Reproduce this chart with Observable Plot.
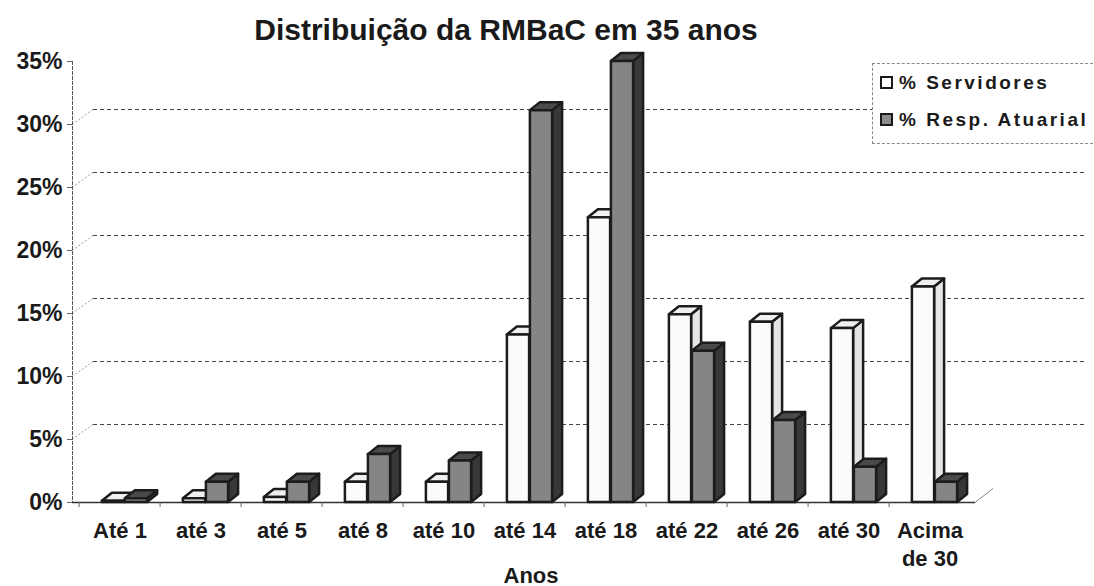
<!DOCTYPE html>
<html><head><meta charset="utf-8">
<script src="https://cdn.jsdelivr.net/npm/d3@7"></script>
<script src="https://cdn.jsdelivr.net/npm/@observablehq/plot@0.6"></script>
<style>
html,body{margin:0;padding:0;background:#fff;width:1094px;height:586px;overflow:hidden;font-family:"Liberation Sans",Arial,sans-serif;}
#wrap{position:relative;width:1094px;height:586px;}
#title{position:absolute;left:0;width:1012px;top:15px;text-align:center;font-size:30px;font-weight:bold;color:#1a1a1a;line-height:30px;white-space:nowrap;}
#chart{position:absolute;left:0;top:40px;}
#legend{position:absolute;left:872px;top:63px;width:230px;height:79px;border-left:1px dashed #888;border-top:1px dashed #888;border-bottom:1px dashed #888;background:#fff;}
.item{position:absolute;left:7px;font-size:19px;font-weight:bold;letter-spacing:2.5px;color:#1a1a1a;line-height:22px;white-space:nowrap;}
.sw{display:inline-block;width:9px;height:9px;border:2.5px solid #1a1a1a;margin-right:6px;vertical-align:0px;}
</style></head>
<body><div id="wrap">
<div id="title">Distribuição da RMBaC em 35 anos</div>
<div id="chart"></div>
<div id="legend">
 <div class="item" style="top:8px"><span class="sw" style="background:#fff"></span>% Servidores</div>
 <div class="item" style="top:45px"><span class="sw" style="background:#8c8c8c"></span>% Resp. Atuarial</div>
</div>
</div>
<script>
const categories = ["Até 1","até 3","até 5","até 8","até 10","até 14","até 18","até 22","até 26","até 30","Acima de 30"];
const servidores = [0.1, 0.3, 0.4, 1.6, 1.6, 13.3, 22.6, 14.9, 14.3, 13.8, 17.1];
const respAtuarial = [0.3, 1.6, 1.6, 3.8, 3.3, 31.1, 35.0, 12.0, 6.5, 2.8, 1.6];
const yTicks = [0, 5, 10, 15, 20, 25, 30, 35];
const gridTicks = [5, 10, 15, 20, 25, 30];

const serv = categories.map((c, i) => ({cat: c, value: servidores[i]}));
const resp = categories.map((c, i) => ({cat: c, value: respAtuarial[i]}));

const DX = 10, DY = -8;      // bar depth
const WX = 21, WY = -15;     // back wall offset
const stroke = "#1c1c1c";
const NS = "http://www.w3.org/2000/svg";

function el(name, attrs) {
  const e = document.createElementNS(NS, name);
  for (const k in attrs) e.setAttribute(k, attrs[k]);
  return e;
}

// 3D box: add top and side faces to every rendered bar
function box3d(topFill, sideFill) {
  return (index, scales, values, dimensions, context, next) => {
    const g = next(index, scales, values, dimensions, context);
    for (const r of Array.from(g.querySelectorAll("rect"))) {
      const x = +r.getAttribute("x"), y = +r.getAttribute("y");
      const w = +r.getAttribute("width"), h = +r.getAttribute("height");
      const side = el("polygon", {points: `${x+w},${y+h} ${x+w+DX},${y+h+DY} ${x+w+DX},${y+DY} ${x+w},${y}`, fill: sideFill});
      const top = el("polygon", {points: `${x},${y} ${x+DX},${y+DY} ${x+w+DX},${y+DY} ${x+w},${y}`, fill: topFill});
      r.parentNode.insertBefore(side, r);
      r.parentNode.insertBefore(top, r);
    }
    return g;
  };
}

// diagonal connectors from the axis to the back-wall grid lines
function wallLinks(index, scales, values, dimensions, context, next) {
  const g = next(index, scales, values, dimensions, context);
  for (const l of Array.from(g.querySelectorAll("line"))) {
    const x1 = +l.getAttribute("x1"), y1 = +l.getAttribute("y1");
    g.appendChild(el("line", {x1: x1 - WX, y1: y1 - WY, x2: x1, y2: y1, "stroke-dasharray": "2,2", stroke: "#999"}));
  }
  return g;
}

// floor edge rising at the right end of the baseline
function floorEdge(index, scales, values, dimensions, context, next) {
  const g = next(index, scales, values, dimensions, context);
  for (const l of Array.from(g.querySelectorAll("line"))) {
    const x2 = +l.getAttribute("x2"), y2 = +l.getAttribute("y2");
    g.appendChild(el("line", {x1: x2, y1: y2, x2: x2 + WX - 3, y2: y2 + WY + 1, stroke: "#888", "stroke-width": 1}));
  }
  return g;
}

const chart = Plot.plot({
  width: 1094,
  height: 546,
  marginLeft: 72,
  marginRight: 119,
  marginTop: 21,
  marginBottom: 84,
  style: {fontFamily: "'Liberation Sans', Arial, sans-serif", fontWeight: "bold", fontSize: "15px", color: "#1a1a1a", background: "transparent", overflow: "visible"},
  x: {domain: categories, range: [74.1, 974.5], padding: 0, label: null},
  y: {domain: [0, 35], label: null},
  marks: [
    Plot.ruleY(gridTicks, {y: d => d, dx: WX, dy: WY, insetRight: -89, stroke: "#444", strokeDasharray: "4,3", strokeWidth: 1, render: wallLinks}),
    Plot.frame({anchor: "left", stroke: "#555", strokeDasharray: "3,2"}),
    Plot.ruleY([0], {stroke: "#333", strokeWidth: 1.5, render: floorEdge}),
    Plot.axisX({tickSize: 5, tickFormat: () => "", dx: -40.9, stroke: "#666", label: null}),
    Plot.barY(serv, {x: "cat", y: "value", insetLeft: 22.9, insetRight: 35.9, fill: "#fbfbfb", stroke, strokeWidth: 2.5, strokeLinejoin: "round", render: box3d("#f0f0f0", "#e6e6e6")}),
    Plot.barY(resp, {x: "cat", y: "value", insetLeft: 45.9, insetRight: 12.9, fill: "#858585", stroke, strokeWidth: 2.5, strokeLinejoin: "round", render: box3d("#4a4a4a", "#383838")}),
    Plot.axisY({ticks: yTicks, tickFormat: d => d + "%", tickSize: 5, tickPadding: 5, fontSize: 23, stroke: "#666", label: null}),
    Plot.axisX({tickSize: 0, tickPadding: 16, fontSize: 22, tickFormat: d => d.replace(" de ", "\nde "), label: null, lineHeight: 1.27}),
    Plot.text(["Anos"], {frameAnchor: "bottom", lineAnchor: "middle", dy: 73, dx: 7, fontSize: 22, fontWeight: "bold", fill: "#1a1a1a"})
  ]
});
document.getElementById("chart").appendChild(chart);
</script>
</body></html>
